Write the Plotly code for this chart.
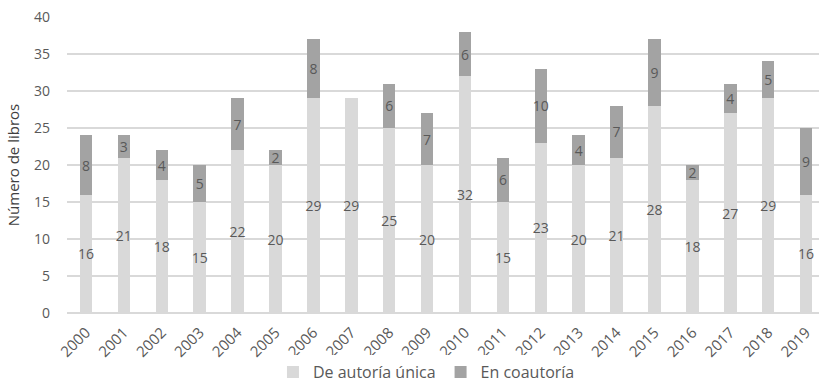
import plotly.graph_objects as go

years = [str(y) for y in range(2000, 2020)]
unica = [16, 21, 18, 15, 22, 20, 29, 29, 25, 20, 32, 15, 23, 20, 21, 28, 18, 27, 29, 16]
coautoria = [8, 3, 4, 5, 7, 2, 8, 0, 6, 7, 6, 6, 10, 4, 7, 9, 2, 4, 5, 9]

FONT = "Open Sans"
LABEL_COLOR = "#595959"

fig = go.Figure()
fig.add_trace(go.Bar(
    x=years, y=unica, name="De autoría única",
    marker=dict(color="#d9d9d9", line=dict(width=0)),
    text=[str(v) if v else "" for v in unica],
    textposition="inside", insidetextanchor="middle", textangle=0,
    textfont=dict(family=FONT, size=14, color=LABEL_COLOR),
))
fig.add_trace(go.Bar(
    x=years, y=coautoria, name="En coautoría",
    marker=dict(color="#a3a3a3", line=dict(width=0)),
    text=[str(v) if v else "" for v in coautoria],
    textposition="inside", insidetextanchor="middle", textangle=0,
    textfont=dict(family=FONT, size=14, color=LABEL_COLOR),
))

fig.update_layout(
    barmode="stack",
    bargap=0.67,
    width=819, height=385,
    margin=dict(l=67, r=0, t=17, b=72, autoexpand=False),
    paper_bgcolor="white", plot_bgcolor="white",
    font=dict(family=FONT, color=LABEL_COLOR),
    uniformtext=dict(minsize=14, mode="show"),
    showlegend=True,
    legend=dict(
        orientation="h", x=0.478, xanchor="center", y=-0.2, yanchor="middle",
        yref="paper",
        font=dict(family=FONT, size=16, color=LABEL_COLOR),
        traceorder="normal",
    ),
    xaxis=dict(
        type="category", range=[-0.5, 19.34], tickangle=-45,
        tickfont=dict(family=FONT, size=15, color=LABEL_COLOR),
        ticklabelstandoff=7,
        showgrid=False, showline=False, ticks="", automargin=False,
    ),
    yaxis=dict(
        range=[0, 40], dtick=5, showgrid=True, gridcolor="#d9d9d9", gridwidth=1.5,
        zeroline=True, zerolinecolor="#d9d9d9", zerolinewidth=1.5,
        tickfont=dict(family=FONT, size=14, color=LABEL_COLOR),
        ticklabelstandoff=16, automargin=False,
        title=dict(text="Número de libros", standoff=10,
                   font=dict(family=FONT, size=15, color="#404040")),
    ),
)

fig.write_html("out.html")
